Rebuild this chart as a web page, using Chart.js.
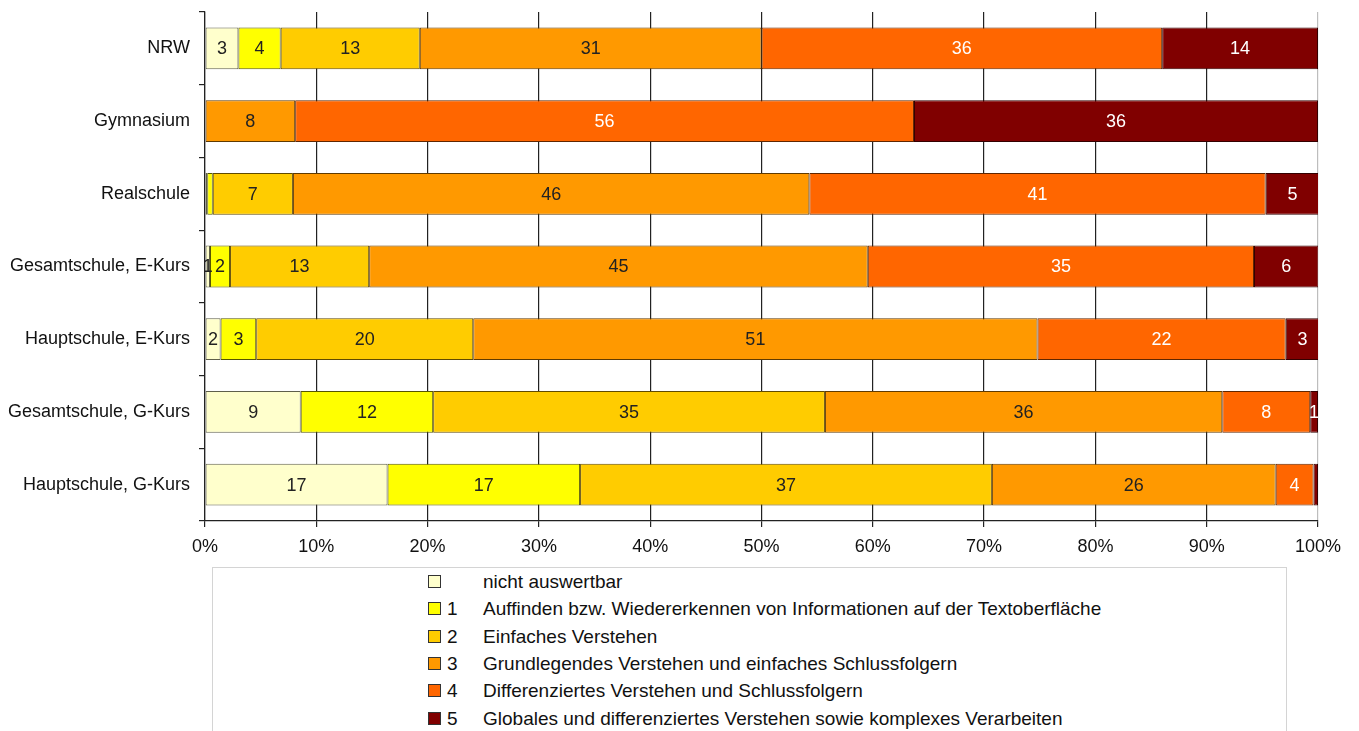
<!DOCTYPE html>
<html>
<head>
<meta charset="utf-8">
<script src="https://cdn.jsdelivr.net/npm/chart.js@4/dist/chart.umd.min.js"></script>
<style>
  html, body { margin: 0; padding: 0; background: #fff; width: 1359px; height: 731px; overflow: hidden; font-family: "Liberation Sans", Arial, sans-serif; }
  #wrap { position: absolute; left: 0; top: 0; width: 1359px; height: 565px; }
  #legend { position: absolute; left: 212px; top: 567px; width: 1075px; height: 180px; border: 1px solid #d4d4d4; box-sizing: border-box; }
  .li { position: absolute; left: 215px; height: 22px; line-height: 22px; font-size: 19px; color: #111; white-space: nowrap; }
  .li .box { position: absolute; left: 0; top: 4px; width: 11px; height: 11px; border: 1px solid #333; }
  .li .num { position: absolute; left: 19px; top: 0; }
  .li .txt { position: absolute; left: 55px; top: 0; }
</style>
</head>
<body>
<div id="wrap"><canvas id="c"></canvas></div>
<div id="legend"></div>
<script>
// ---- data (percent shares) ----
const categories = ["NRW", "Gymnasium", "Realschule", "Gesamtschule, E-Kurs", "Hauptschule, E-Kurs", "Gesamtschule, G-Kurs", "Hauptschule, G-Kurs"];
const seriesNames = ["nicht auswertbar",
  "Auffinden bzw. Wiedererkennen von Informationen auf der Textoberfläche",
  "Einfaches Verstehen",
  "Grundlegendes Verstehen und einfaches Schlussfolgern",
  "Differenziertes Verstehen und Schlussfolgern",
  "Globales und differenziertes Verstehen sowie komplexes Verarbeiten"];
const seriesLevels = ["", "1", "2", "3", "4", "5"];
const nichtAuswertbar = [3.0, 0, 0.2, 0.45, 1.4, 8.6, 16.4];
const stufe1 = [3.8, 0, 0.5, 1.8, 3.2, 11.9, 17.3];
const stufe2 = [12.5, 0, 7.2, 12.5, 19.5, 35.2, 37.0];
const stufe3 = [30.7, 8.1, 46.4, 44.8, 50.7, 35.7, 25.5];
const stufe4 = [36.0, 55.6, 41.0, 34.7, 22.3, 7.9, 3.4];
const stufe5 = [14.0, 36.3, 4.8, 5.8, 3.0, 0.7, 0.4];
// value labels as printed in the bars (null = no label)
const labelsNicht = ["3", null, null, "1", "2", "9", "17"];
const labels1 = ["4", null, null, "2", "3", "12", "17"];
const labels2 = ["13", null, "7", "13", "20", "35", "37"];
const labels3 = ["31", "8", "46", "45", "51", "36", "26"];
const labels4 = ["36", "56", "41", "35", "22", "8", "4"];
const labels5 = ["14", "36", "5", "6", "3", "1", null];
const xTicks = ["0%", "10%", "20%", "30%", "40%", "50%", "60%", "70%", "80%", "90%", "100%"];

const seriesData = [nichtAuswertbar, stufe1, stufe2, stufe3, stufe4, stufe5];
const seriesLabels = [labelsNicht, labels1, labels2, labels3, labels4, labels5];
const colors = ["#FFFFCC", "#FFFF00", "#FFCC00", "#FF9900", "#FF6600", "#800000"];
const borders = ["#5f5f4a", "#555500", "#604a00", "#603a00", "#602600", "#330000"];
const labelColors = ["#222", "#222", "#222", "#222", "#fff", "#fff"];

const FONT = '"Liberation Sans", Arial, sans-serif';

const valueLabelPlugin = {
  id: 'valueLabels',
  afterDatasetsDraw(chart) {
    const ctx = chart.ctx;
    ctx.save();
    ctx.textAlign = 'center';
    ctx.textBaseline = 'middle';
    ctx.font = '18px ' + FONT;
    chart.data.datasets.forEach((ds, di) => {
      const meta = chart.getDatasetMeta(di);
      meta.data.forEach((bar, i) => {
        const lab = seriesLabels[di][i];
        if (lab == null) return;
        const p = bar.getProps(['x', 'y', 'base'], true);
        const cx = (p.x + p.base) / 2;
        ctx.fillStyle = labelColors[di];
        ctx.fillText(lab, cx, p.y + 1);
      });
    });
    ctx.restore();
  }
};

const datasets = seriesData.map((d, i) => ({
  label: (seriesLevels[i] ? seriesLevels[i] + ' ' : '') + seriesNames[i],
  data: d,
  backgroundColor: colors[i],
  borderColor: borders[i],
  borderWidth: 1,
  borderSkipped: false,
  barPercentage: 0.575,
  categoryPercentage: 1.0
}));

new Chart(document.getElementById('c'), {
  type: 'bar',
  data: { labels: categories, datasets },
  options: {
    indexAxis: 'y',
    responsive: true,
    maintainAspectRatio: false,
    animation: false,
    layout: { padding: { left: 0, right: 41, top: 12, bottom: 0 } },
    plugins: { legend: { display: false }, tooltip: { enabled: false } },
    scales: {
      x: {
        stacked: true,
        min: 0, max: 100,
        afterBuildTicks(scale) { scale.ticks = xTicks.map((t, i) => ({ value: i * 10 })); },
        afterFit(scale) { scale.height = 44; },
        ticks: {
          callback: (v, i) => xTicks[i],
          color: '#111',
          font: { size: 18, family: FONT },
          padding: 9,
          maxRotation: 0
        },
        grid: { color: (c) => c.index === 10 ? '#bdbdbd' : '#222', lineWidth: 1.2, tickLength: 6, tickColor: '#222' },
        border: { display: true, color: '#222', width: 1.2 }
      },
      y: {
        stacked: true,
        afterFit(scale) { scale.width = 205; scale.paddingTop = 0; scale.paddingBottom = 0; },
        ticks: {
          color: '#111',
          font: { size: 18, family: FONT },
          padding: 9
        },
        grid: { offset: true, drawOnChartArea: false, tickLength: 6, color: '#222', lineWidth: 1.2 },
        border: { display: true, color: '#222', width: 1.2 }
      }
    }
  },
  plugins: [valueLabelPlugin]
});

// HTML legend built from series arrays
const legend = document.getElementById('legend');
seriesNames.forEach((name, i) => {
  const row = document.createElement('div');
  row.className = 'li';
  row.style.top = (3 + i * 27.3) + 'px';
  row.innerHTML = '<span class="box" style="background:' + colors[i] + '"></span>' +
    '<span class="num">' + seriesLevels[i] + '</span>' +
    '<span class="txt"></span>';
  row.querySelector('.txt').textContent = name;
  legend.appendChild(row);
});
</script>
</body>
</html>
